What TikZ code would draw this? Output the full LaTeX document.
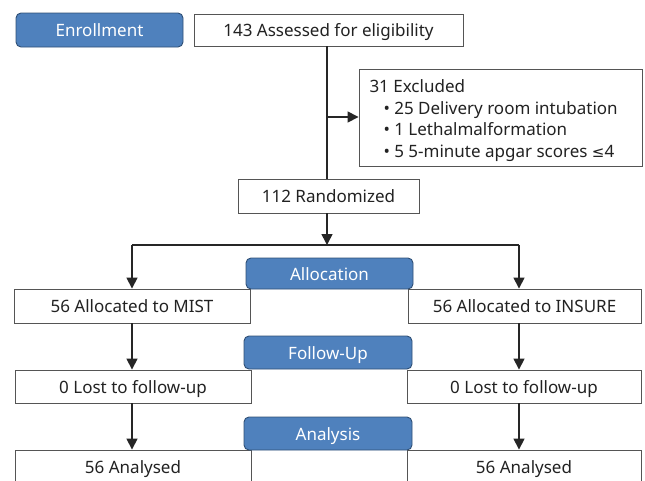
\documentclass[tikz,border=0pt]{standalone}
\usepackage{fontspec}
\setmainfont{Noto Sans}
\newfontfamily\symfont{DejaVu Sans}
\usetikzlibrary{arrows.meta}
\definecolor{phase}{HTML}{4F81BD}
\definecolor{phaseborder}{HTML}{2F4F75}
\definecolor{boxline}{HTML}{555555}
\definecolor{txt}{HTML}{222222}
\begin{document}
\begin{tikzpicture}[x=1pt,y=-1pt,
  every node/.style={font=\fontsize{17}{21.5}\selectfont, text=txt, inner sep=0pt},
  line1/.style={text height=13.5pt, text depth=0.5pt},
  boxx/.style={draw=boxline, line width=0.9pt, fill=white, minimum height=33pt},
  phasebox/.style={line1, draw=phaseborder, line width=0.9pt, fill=phase, rounded corners=5pt, text=white, minimum height=32pt},
  conn/.style={line width=1.6pt, draw=black!85},
  arr/.style={conn, -{Triangle[width=11pt,length=11pt]}}]
\useasboundingbox (0,0) rectangle (645,480);
% nodes
\node[phasebox, minimum width=167pt, minimum height=34pt] (enroll) at (99.5,30) {Enrollment};
\node[boxx, line1, minimum width=269pt, minimum height=32pt] (assess) at (328.5,30) {143 Assessed for eligibility};
\node[boxx, minimum width=283pt, minimum height=97pt] (excl) at (500.5,117.5)
  {\begin{minipage}{262pt}\vspace*{6pt}31 Excluded\\
   \hspace*{14pt}\textbullet\ 25 Delivery room intubation\\
   \hspace*{14pt}\textbullet\ 1 Lethalmalformation\\
   \hspace*{14pt}\textbullet\ 5 5-minute apgar scores {\symfont\fontsize{15}{21.5}\selectfont ≤}4\end{minipage}};
\node[boxx, line1, minimum width=181pt, minimum height=34pt] (rand) at (328.5,196) {112 Randomized};
\node[boxx, line1, minimum width=236pt, minimum height=34pt] (mist) at (132,306) {56 Allocated to MIST};
\node[boxx, line1, minimum width=233pt, minimum height=34pt] (insure) at (524.5,306) {56 Allocated to INSURE};
\node[phasebox, minimum width=167pt, minimum height=31pt] (alloc) at (329.5,273.5) {Allocation};
\node[boxx, line1, minimum width=236pt] (lostL) at (133,386.5) {0 Lost to follow-up};
\node[boxx, line1, minimum width=234pt] (lostR) at (524,386.5) {0 Lost to follow-up};
\node[phasebox, minimum width=168pt, minimum height=33pt] (follow) at (328,352.5) {Follow-Up};
\node[boxx, line1, minimum width=236pt, minimum height=34pt] (anL) at (133,467) {56 Analysed};
\node[boxx, line1, minimum width=234pt, minimum height=34pt] (anR) at (524,467) {56 Analysed};
\node[phasebox, minimum width=168pt, minimum height=33pt] (analysis) at (328,433.5) {Analysis};
% connectors
\coordinate (split) at (327,245);
\coordinate (exclbr) at (327,117);
\coordinate (sl) at (132,245);
\coordinate (sr) at (519,245);
\draw[conn] (assess.south -| split) -- (rand.north -| split);
\draw[arr] (exclbr) -- (excl.west |- exclbr);
\draw[arr] (rand.south -| split) -- (split);
\draw[conn] (sl) -- (sr);
\draw[arr] (sl) -- (mist.north -| sl);
\draw[arr] (sr) -- (insure.north -| sr);
\draw[arr] (mist.south -| sl) -- (lostL.north -| sl);
\draw[arr] (insure.south -| sr) -- (lostR.north -| sr);
\draw[arr] (lostL.south -| sl) -- (anL.north -| sl);
\draw[arr] (lostR.south -| sr) -- (anR.north -| sr);
\end{tikzpicture}
\end{document}
